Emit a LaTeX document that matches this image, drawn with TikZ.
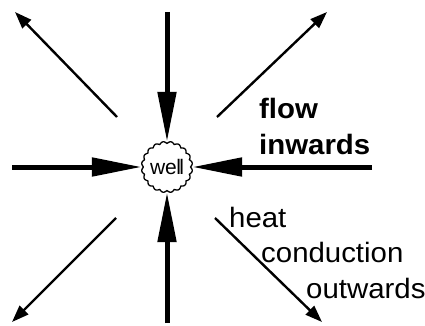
\documentclass[tikz,border=0pt]{standalone}
\usepackage{fontspec}
\setmainfont{Liberation Sans}
\newfontfamily\widefont{Liberation Sans}[FakeStretch=1.05]
\usetikzlibrary{arrows.meta}
\begin{document}
\begin{tikzpicture}[x=1pt,y=-1pt,
  inflow/.style={line width=5pt,-{Triangle[length=50pt,width=18pt]}},
  outflow/.style={line width=2.4pt,-{Triangle[length=17pt,width=12pt]}},
  boldlabel/.style={anchor=base west,inner sep=0pt,font=\widefont\fontsize{28}{30}\selectfont\bfseries},
  plainlabel/.style={anchor=base west,inner sep=0pt,font=\widefont\fontsize{28}{30}\selectfont}]
\useasboundingbox (0,0) rectangle (425,326);
% well
\node[circle,minimum size=50pt,inner sep=0pt,font=\fontsize{21}{22}\selectfont] (well) at (167,167) {we\kern-0.5pt l\kern-1.8pt l};
\draw[line width=1.3pt] plot[domain=0:360,samples=240,smooth] ({167+(23.5+2*abs(sin(10*\x)))*cos(\x)},{167+(23.5+2*abs(sin(10*\x)))*sin(\x)}) -- cycle;
% inward thick arrows
\coordinate (tn) at (167,12);
\coordinate (ts) at (167,323);
\coordinate (tw) at (12,167);
\coordinate (te) at (372,167);
\draw[inflow] (tn) -- (well);
\draw[inflow] (ts) -- (well);
\draw[inflow] (tw) -- (well);
\draw[inflow] (te) -- (well);
% outward diagonal arrows
\coordinate (nw0) at (117,117); \coordinate (nw1) at (15,12);
\coordinate (ne0) at (217,117); \coordinate (ne1) at (327,12);
\coordinate (sw0) at (116,218); \coordinate (sw1) at (12,322);
\coordinate (se0) at (215,218); \coordinate (se1) at (322,322);
\draw[outflow] (nw0) -- (nw1);
\draw[outflow] (ne0) -- (ne1);
\draw[outflow] (sw0) -- (sw1);
\draw[outflow] (se0) -- (se1);
% labels
\node[boldlabel] (flow) at (259,118) {flow};
\node[boldlabel] (inw) at (259,154) {inwards};
\node[plainlabel] (heat) at (229,227) {heat};
\node[plainlabel] (cond) at (261,262) {conduction};
\node[plainlabel] (outw) at (306,298) {outwards};
\end{tikzpicture}
\end{document}
